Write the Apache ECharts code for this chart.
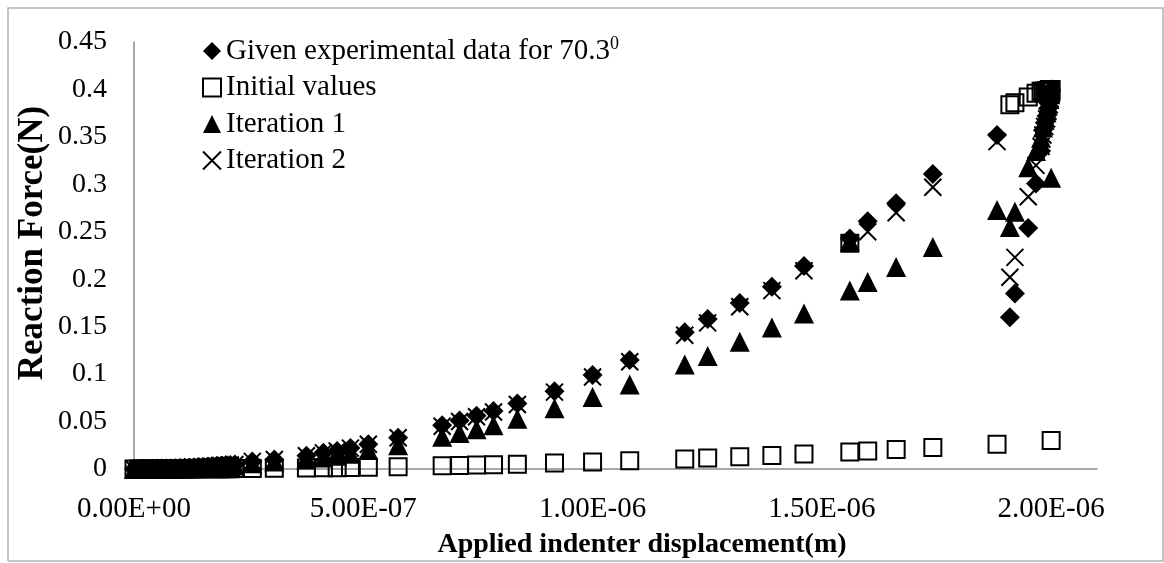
<!DOCTYPE html>
<html>
<head>
<meta charset="utf-8">
<script src="https://cdn.jsdelivr.net/npm/echarts@6/dist/echarts.min.js"></script>
<style>
html,body{margin:0;padding:0;background:#fff;}
#chart{width:1164px;height:563px;}
</style>
</head>
<body>
<div id="chart"></div>
<script>
// Applied indenter displacement (m) – shared by all series
var displacement = [
  0, 0.01e-6, 0.02e-6, 0.03e-6, 0.04e-6, 0.05e-6, 0.06e-6, 0.07e-6, 0.08e-6, 0.09e-6,
  0.10e-6, 0.11e-6, 0.12e-6, 0.13e-6, 0.14e-6, 0.15e-6, 0.16e-6, 0.17e-6, 0.18e-6, 0.19e-6,
  0.20e-6, 0.21e-6, 0.22e-6,
  0.258e-6, 0.306e-6, 0.376e-6, 0.413e-6, 0.443e-6, 0.472e-6, 0.511e-6, 0.576e-6,
  0.672e-6, 0.710e-6, 0.747e-6, 0.784e-6, 0.836e-6, 0.917e-6, 1.000e-6, 1.081e-6,
  1.201e-6, 1.251e-6, 1.321e-6, 1.391e-6, 1.461e-6, 1.561e-6, 1.600e-6, 1.662e-6,
  1.742e-6, 1.882e-6, 2.000e-6,
  2.000e-6, 1.998e-6, 1.996e-6, 1.993e-6, 1.990e-6, 1.986e-6, 1.982e-6, 1.978e-6,
  1.967e-6, 1.950e-6, 1.921e-6, 1.910e-6
];
var experimental = [
  0, 0, 0, 0.0001, 0.0002, 0.0003, 0.0004, 0.0005, 0.0006, 0.0008,
  0.0010, 0.0012, 0.0014, 0.0017, 0.0020, 0.0022, 0.0025, 0.0028, 0.0032, 0.0035,
  0.0039, 0.0043, 0.0048,
  0.008, 0.010, 0.014, 0.017, 0.019, 0.022, 0.026, 0.033,
  0.046, 0.051, 0.056, 0.061, 0.069, 0.082, 0.099, 0.115,
  0.144, 0.158, 0.175, 0.192, 0.214, 0.243, 0.261, 0.280,
  0.311, 0.352, 0.400,
  0.398, 0.393, 0.387, 0.380, 0.372, 0.365, 0.357, 0.335,
  0.301, 0.254, 0.185, 0.160
];
var initialValues = [
  0, 0, 0, 0, 0, 0, 0, 0, 0.0001, 0.0001,
  0.0001, 0.0001, 0.0001, 0.0001, 0.0002, 0.0002, 0.0002, 0.0002, 0.0002, 0.0003,
  0.0003, 0.0003, 0.0004,
  0.0005, 0.0007, 0.0010, 0.0012, 0.0014, 0.0016, 0.0019, 0.0024,
  0.0033, 0.0037, 0.0041, 0.0045, 0.0051, 0.0062, 0.0074, 0.0087,
  0.0106, 0.0115, 0.0128, 0.0142, 0.0157, 0.0180, 0.0190, 0.0205,
  0.0226, 0.0262, 0.0300,
  0.400, 0.400, 0.400, 0.399, 0.399, 0.398, 0.398, 0.398,
  0.396, 0.392, 0.386, 0.384
];
var iteration1 = [
  0, 0, 0, 0.0001, 0.0001, 0.0002, 0.0003, 0.0004, 0.0005, 0.0006,
  0.0007, 0.0009, 0.0010, 0.0012, 0.0014, 0.0016, 0.0018, 0.0021, 0.0024, 0.0026,
  0.0029, 0.0032, 0.0036,
  0.006, 0.008, 0.010, 0.012, 0.014, 0.016, 0.020, 0.025,
  0.034, 0.038, 0.042, 0.046, 0.053, 0.064, 0.076, 0.089,
  0.110, 0.119, 0.134, 0.149, 0.164, 0.188, 0.197, 0.213,
  0.234, 0.273, 0.307,
  0.399, 0.395, 0.390, 0.383, 0.376, 0.368, 0.360, 0.349,
  0.335, 0.318, 0.271, 0.255
];
var iteration2 = [
  0, 0, 0, 0.0001, 0.0002, 0.0003, 0.0004, 0.0005, 0.0006, 0.0008,
  0.0010, 0.0012, 0.0014, 0.0017, 0.0020, 0.0022, 0.0025, 0.0028, 0.0032, 0.0035,
  0.0039, 0.0043, 0.0048,
  0.008, 0.010, 0.014, 0.017, 0.019, 0.022, 0.026, 0.033,
  0.045, 0.050, 0.055, 0.060, 0.068, 0.081, 0.097, 0.113,
  0.141, 0.154, 0.171, 0.188, 0.209, 0.238, 0.250, 0.270,
  0.297, 0.345, 0.395,
  0.396, 0.390, 0.384, 0.377, 0.369, 0.361, 0.352, 0.340,
  0.320, 0.287, 0.223, 0.202
];
// Overlapping marks at 1.561E-06 (filled-looking cluster)
var extraX = [1.561e-6];
var extraInitial = [0.238];
var extraIteration1 = [0.240];

var seriesNames = ['Given experimental data for 70.3', 'Initial values', 'Iteration 1', 'Iteration 2'];

function pairs(xs, ys) { return xs.map(function (x, i) { return [x, ys[i]]; }); }

var FONT = "'Liberation Serif','Times New Roman',serif";
var chart = echarts.init(document.getElementById('chart'), null, {renderer: 'canvas'});
chart.setOption({
  backgroundColor: '#fff',
  animation: false,
  grid: {left: 134, right: 67, top: 42, bottom: 94},
  legend: {
    orient: 'vertical',
    left: 197, top: 30,
    itemWidth: 18, itemHeight: 18, itemGap: 6.5,
    data: seriesNames,
    textStyle: {
      fontFamily: FONT, fontSize: 29, color: '#000', lineHeight: 30,
      rich: {
        sup: {fontFamily: FONT, fontSize: 18, color: '#000', padding: [0, 0, 14, 0]}
      }
    },
    formatter: function (n) { return n === seriesNames[0] ? n + '{sup|0}' : n; }
  },
  xAxis: {
    type: 'value', min: 0, max: 2.1e-6, interval: 5e-7,
    axisLine: {show: true, onZero: false, lineStyle: {color: '#8c8c8c', width: 1.5}},
    axisTick: {show: false},
    splitLine: {show: false},
    axisLabel: {
      fontFamily: FONT, fontSize: 29, color: '#000', margin: 26, showMaxLabel: false,
      formatter: function (v) {
        if (Math.abs(v / 5e-7 - Math.round(v / 5e-7)) > 1e-6) return '';
        var s = v.toExponential(2).toUpperCase();
        var m = s.match(/^(-?[\d.]+)E([+-])(\d+)$/);
        var e = m[3].length < 2 ? '0' + m[3] : m[3];
        return m[1] + 'E' + m[2] + e;
      }
    }
  },
  yAxis: {
    type: 'value', min: 0, max: 0.45, interval: 0.05,
    axisLine: {show: true, lineStyle: {color: '#8c8c8c', width: 1.5}},
    axisTick: {show: false},
    splitLine: {show: false},
    axisLabel: {
      fontFamily: FONT, fontSize: 28, color: '#000', margin: 27,
      formatter: function (v) { return String(parseFloat(v.toFixed(2))); }
    }
  },
  graphic: [
    {type: 'polyline', shape: {points: [[8, 561], [8, 8], [1163, 8], [1163, 561], [8, 561]]},
     style: {stroke: '#b3b3b3', lineWidth: 1.5, fill: null}, silent: true},
    {type: 'text', x: 33, y: 243, rotation: Math.PI / 2,
     style: {text: 'Reaction Force(N)', fontFamily: FONT, fontWeight: 'bold', fontSize: 35,
             fill: '#000', align: 'center', verticalAlign: 'middle'}},
    {type: 'text', x: 642, y: 545,
     style: {text: 'Applied indenter displacement(m)', fontFamily: FONT, fontWeight: 'bold', fontSize: 28,
             fill: '#000', align: 'center', verticalAlign: 'middle'}}
  ],
  series: [
    {name: seriesNames[0], type: 'scatter', symbol: 'diamond', symbolSize: 20,
     itemStyle: {color: '#000', opacity: 1}, data: pairs(displacement, experimental), z: 2},
    {name: seriesNames[1], type: 'scatter', symbol: 'rect', symbolSize: 17,
     itemStyle: {color: 'rgba(255,255,255,0)', borderColor: '#000', borderWidth: 2, opacity: 1},
     data: pairs(displacement, initialValues).concat(pairs(extraX, extraInitial)), z: 3},
    {name: seriesNames[2], type: 'scatter', symbol: 'triangle', symbolSize: 20,
     itemStyle: {color: '#000', opacity: 1},
     data: pairs(displacement, iteration1).concat(pairs(extraX, extraIteration1)), z: 4},
    {name: seriesNames[3], type: 'scatter', symbol: 'path://M0,0L10,10M10,0L0,10', symbolSize: 17,
     itemStyle: {color: 'rgba(0,0,0,0)', borderColor: '#000', borderWidth: 2, opacity: 1},
     data: pairs(displacement, iteration2), z: 5}
  ]
});
</script>
</body>
</html>
